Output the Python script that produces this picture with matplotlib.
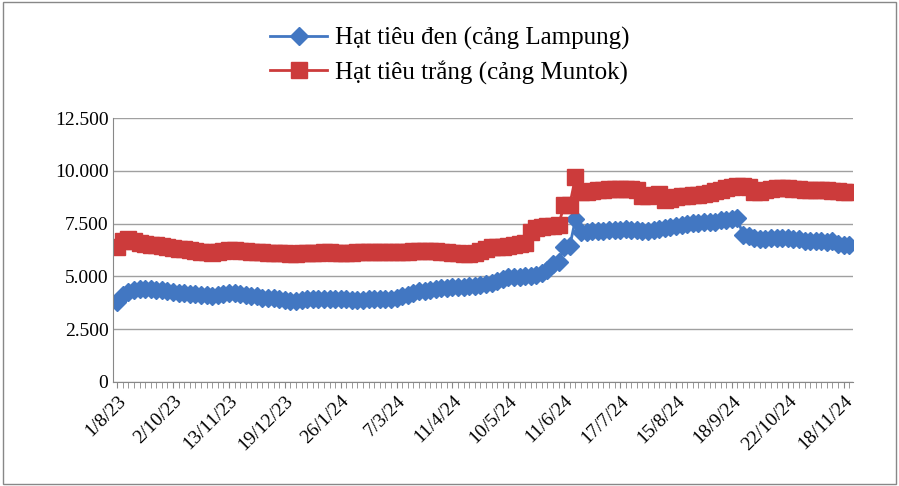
import matplotlib
matplotlib.use("Agg")
import matplotlib.pyplot as plt
from matplotlib.ticker import FuncFormatter
from matplotlib.patches import Rectangle

plt.rcParams['font.family'] = ['Liberation Serif', 'DejaVu Serif']

# Giá hạt tiêu (USD/tấn)
tieu_den = [
    3800, 4100, 4250, 4350, 4400, 4400, 4400, 4380, 4350, 4300,
    4250, 4200, 4200, 4150, 4150, 4100, 4100, 4050, 4100, 4150,
    4200, 4200, 4150, 4100, 4050, 4050, 4000, 4000, 4000, 3950,
    3900, 3850, 3850, 3900, 3950, 3950, 3950, 3950, 3950, 3950,
    3950, 3950, 3900, 3900, 3900, 3950, 3950, 3950, 3950, 3950,
    4000, 4050, 4100, 4200, 4300, 4300, 4350, 4400, 4450, 4450,
    4500, 4500, 4500, 4550, 4550, 4600, 4650, 4700, 4800, 4900,
    4950, 4950, 4950, 5000, 5000, 5050, 5150, 5300, 5600, 5700,
    6400, 6450, 7700, 7100, 7100, 7150, 7150, 7150, 7200, 7200,
    7200, 7250, 7200, 7200, 7150, 7150, 7200, 7250, 7300, 7350,
    7400, 7450, 7500, 7550, 7550, 7600, 7600, 7600, 7650, 7650,
    7700, 7750, 6950, 6900, 6800, 6750, 6750, 6800, 6800, 6800,
    6800, 6750, 6750, 6700, 6700, 6700, 6700, 6650, 6700, 6550,
    6500, 6500,
]
tieu_trang = [
    6400, 6700, 6750, 6700, 6600, 6550, 6500, 6500, 6450, 6400,
    6350, 6300, 6300, 6250, 6200, 6150, 6150, 6100, 6150, 6200,
    6250, 6250, 6200, 6200, 6150, 6150, 6150, 6100, 6100, 6100,
    6100, 6050, 6050, 6100, 6100, 6100, 6100, 6150, 6150, 6100,
    6100, 6100, 6100, 6150, 6150, 6150, 6150, 6150, 6150, 6150,
    6150, 6150, 6150, 6200, 6200, 6200, 6200, 6200, 6150, 6150,
    6100, 6100, 6050, 6050, 6100, 6200, 6300, 6400, 6400, 6400,
    6450, 6500, 6550, 6600, 7100, 7300, 7350, 7400, 7400, 7450,
    8400, 8400, 9700, 9000, 9000, 9050, 9100, 9100, 9150, 9150,
    9150, 9150, 9150, 9100, 8800, 8800, 8850, 8900, 8600, 8650,
    8750, 8800, 8800, 8850, 8850, 8900, 8950, 9050, 9100, 9200,
    9250, 9300, 9300, 9250, 9000, 9000, 9100, 9150, 9200, 9200,
    9200, 9150, 9150, 9100, 9100, 9100, 9100, 9100, 9050, 9050,
    9000, 9000,
]
nhan_ngay = ["1/8/23", "2/10/23", "13/11/23", "19/12/23", "26/1/24", "7/3/24",
             "11/4/24", "10/5/24", "11/6/24", "17/7/24", "15/8/24", "18/9/24",
             "22/10/24", "18/11/24"]

x = list(range(len(tieu_den)))

fig = plt.figure(figsize=(8.99, 4.86), dpi=100)
ax = fig.add_axes([0.126, 0.214, 0.823, 0.543])

ax.plot(x, tieu_den, color="#4277c2", marker="D", markersize=9, linewidth=2,
        label="Hạt tiêu đen (cảng Lampung)")
ax.plot(x, tieu_trang, color="#cc3b3b", marker="s", markersize=12, linewidth=2,
        label="Hạt tiêu trắng (cảng Muntok)")

ax.set_ylim(0, 12500)
ax.set_yticks([0, 2500, 5000, 7500, 10000, 12500])
ax.yaxis.set_major_formatter(FuncFormatter(lambda v, p: f"{int(v):,}".replace(",", ".")))
ax.set_xlim(-0.7, len(x) - 0.3)
ax.set_xticks(range(0, len(x), 10))
ax.set_xticks(range(len(x)), minor=True)
ax.set_xticklabels(nhan_ngay, rotation=45, ha="right", rotation_mode="anchor")
ax.tick_params(axis="both", labelsize=14, length=0)
ax.tick_params(axis="x", which="both", length=4, color="#888888", direction="out")
ax.grid(axis="y", color="#a0a0a0", linewidth=1)
ax.set_axisbelow(True)
for s in ["top", "right"]:
    ax.spines[s].set_visible(False)
ax.spines["left"].set_color("#888888")
ax.spines["bottom"].set_color("#888888")

fig.legend(loc="upper center", bbox_to_anchor=(0.5, 0.99), ncol=1, frameon=False,
           fontsize=18, handlelength=2.3, handletextpad=0.3, labelspacing=0.4)

fig.patches.append(Rectangle((0.003, 0.005), 0.994, 0.99, transform=fig.transFigure,
                             fill=False, edgecolor="#888888", linewidth=1))

fig.savefig("out.png", dpi=100)
